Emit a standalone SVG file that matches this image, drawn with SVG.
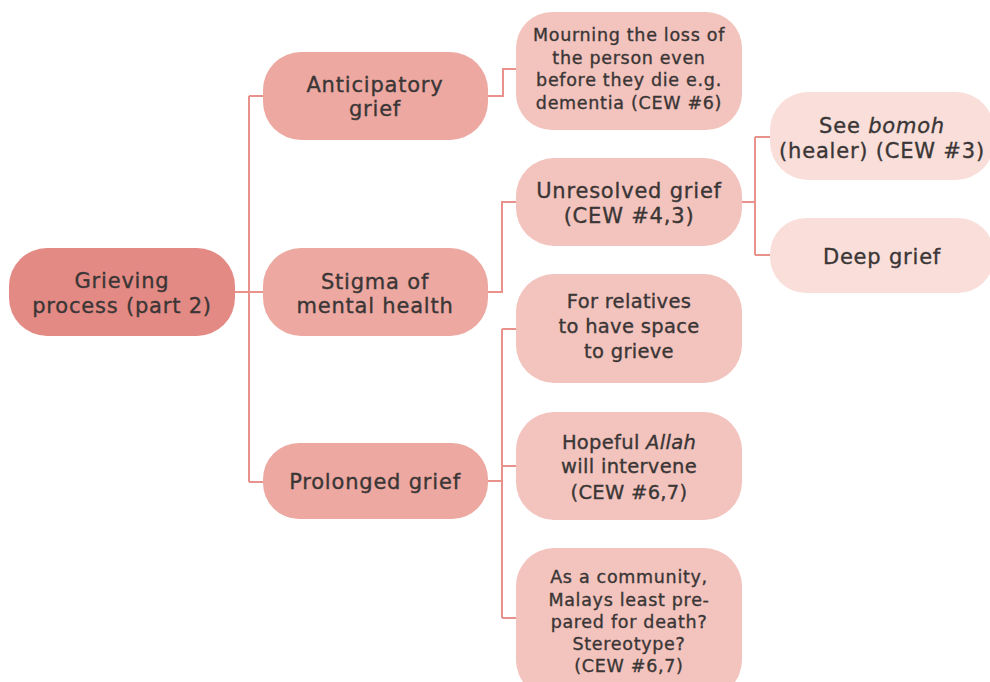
<svg xmlns="http://www.w3.org/2000/svg" width="990" height="682" viewBox="0 0 990 682">
  <style>
    .lk { fill: none; stroke: #E9928C; stroke-width: 2; }
    .n0 { fill: #E48A84; }
    .n1 { fill: #ECA8A1; }
    .n2 { fill: #F3C3BD; }
    .n3 { fill: #F9DEDA; }
    text { font-family: "DejaVu Sans", "Liberation Sans", sans-serif; fill: #3A3636; stroke: #3A3636; stroke-width: 0.35px; text-anchor: middle; }
    .t1 { font-size: 21px; letter-spacing: 0.8px; }
    .t2 { font-size: 19.5px; letter-spacing: 0.3px; }
    .ts { font-size: 17.5px; letter-spacing: 0.7px; }
  </style>
  <rect width="990" height="682" fill="#FFFFFF"/>

  <!-- connectors -->
  <g id="connectors">
    <path class="lk" d="M235,292 H263 M249,96 V482 M249,96 H263 M249,482 H263"/>
    <path class="lk" d="M488,96 H503 V69 H516"/>
    <path class="lk" d="M488,292 H502 V202 H516"/>
    <path class="lk" d="M488,481 H502 M502,329 V618 M502,329 H516 M502,466 H516 M502,618 H516"/>
    <path class="lk" d="M742,202 H755 M755,137 V255 M755,137 H770 M755,255 H770"/>
  </g>

  <g id="root">
    <rect class="n0" x="9" y="248" width="226" height="88" rx="38"/>
    <text class="t1" x="122" y="288">Grieving</text>
    <text class="t1" x="122" y="313">process (part 2)</text>
  </g>

  <g id="anticipatory">
    <rect class="n1" x="263" y="52" width="225" height="88" rx="38"/>
    <text class="t1" x="375" y="92">Anticipatory</text>
    <text class="t1" x="375" y="116">grief</text>
  </g>

  <g id="stigma">
    <rect class="n1" x="263" y="248" width="225" height="88" rx="38"/>
    <text class="t1" x="375" y="289">Stigma of</text>
    <text class="t1" x="375" y="313">mental health</text>
  </g>

  <g id="prolonged">
    <rect class="n1" x="263" y="443" width="225" height="76" rx="36"/>
    <text class="t1" x="375" y="489">Prolonged grief</text>
  </g>

  <g id="mourning">
    <rect class="n2" x="516" y="12" width="226" height="118" rx="36"/>
    <text class="ts" x="629" y="41">Mourning the loss of</text>
    <text class="ts" x="629" y="64">the person even</text>
    <text class="ts" x="629" y="86">before they die e.g.</text>
    <text class="ts" x="629" y="109">dementia (CEW #6)</text>
  </g>

  <g id="unresolved">
    <rect class="n2" x="516" y="158" width="226" height="88" rx="38"/>
    <text class="t1" x="629" y="198">Unresolved grief</text>
    <text class="t1" x="629" y="223">(CEW #4,3)</text>
  </g>

  <g id="bomoh">
    <rect class="n3" x="770" y="92" width="224" height="88" rx="38"/>
    <text class="t1" x="882" y="133">See <tspan font-style="italic">bomoh</tspan></text>
    <text class="t1" x="882" y="158">(healer) (CEW #3)</text>
  </g>

  <g id="deep">
    <rect class="n3" x="770" y="218" width="224" height="75" rx="36"/>
    <text class="t1" x="882" y="264">Deep grief</text>
  </g>

  <g id="relatives">
    <rect class="n2" x="516" y="274" width="226" height="109" rx="38"/>
    <text class="t2" x="629" y="308">For relatives</text>
    <text class="t2" x="629" y="333">to have space</text>
    <text class="t2" x="629" y="358">to grieve</text>
  </g>

  <g id="hopeful">
    <rect class="n2" x="516" y="412" width="226" height="108" rx="38"/>
    <text class="t2" x="629" y="449">Hopeful <tspan font-style="italic">Allah</tspan></text>
    <text class="t2" x="629" y="473">will intervene</text>
    <text class="t2" x="629" y="499">(CEW #6,7)</text>
  </g>

  <g id="community">
    <rect class="n2" x="516" y="548" width="226" height="150" rx="38"/>
    <text class="ts" x="629" y="583">As a community,</text>
    <text class="ts" x="629" y="606">Malays least pre-</text>
    <text class="ts" x="629" y="628">pared for death?</text>
    <text class="ts" x="629" y="650">Stereotype?</text>
    <text class="ts" x="629" y="672">(CEW #6,7)</text>
  </g>
</svg>
